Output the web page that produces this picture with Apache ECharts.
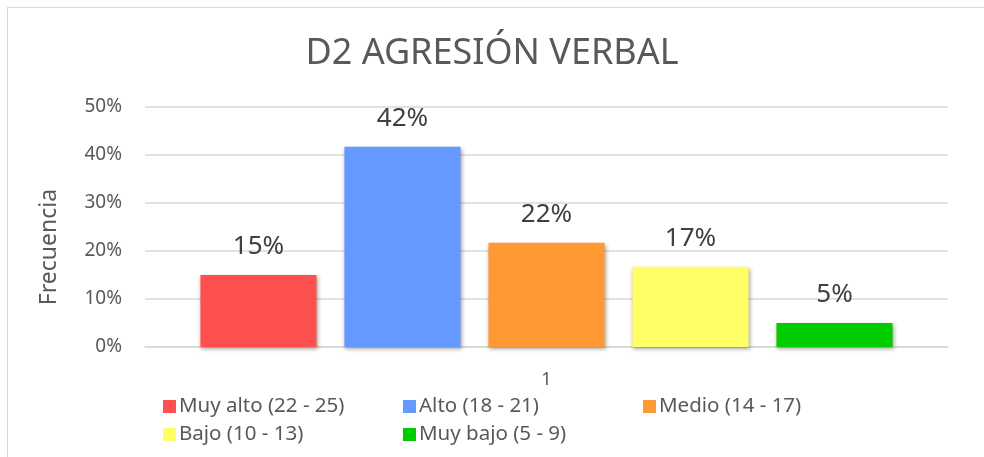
<!DOCTYPE html>
<html>
<head>
<meta charset="utf-8">
<title>D2 AGRESIÓN VERBAL</title>
<script src="https://cdn.jsdelivr.net/npm/echarts@6/dist/echarts.min.js"></script>
<style>
  html, body { margin: 0; padding: 0; background: #fff; overflow: hidden; }
  .frame {
    position: absolute; left: 7px; top: 7px; width: 1000px; height: 500px;
    border: 1px solid #d9d9d9;
  }
  #chart { position: absolute; left: 0; top: 0; width: 984px; height: 457px; }
</style>
</head>
<body>
<div class="frame"></div>
<div id="chart"></div>
<script>
// datos del gráfico
const categories = ['1']
const seriesNames = ['Muy alto (22 - 25)', 'Alto (18 - 21)', 'Medio (14 - 17)', 'Bajo (10 - 13)', 'Muy bajo (5 - 9)']
const seriesValues = [0.15, 0.417, 0.217, 0.167, 0.05]
const yTicks = [0, 0.1, 0.2, 0.3, 0.4, 0.5]

const colors = ['#ff5050', '#6699ff', '#ff9933', '#ffff66', '#00cc00']
const font = '"Noto Sans", sans-serif'

// posiciones de la leyenda (como en Excel: dos filas)
const legendPos = [
  { left: 163, top: 396 },
  { left: 403, top: 396 },
  { left: 643, top: 396 },
  { left: 163, top: 424 },
  { left: 403, top: 424 },
]

const chart = echarts.init(document.getElementById('chart'), null, { renderer: 'canvas' })

chart.setOption({
  animation: false,
  title: {
    text: 'D2 AGRESIÓN VERBAL',
    left: 'center',
    top: 31,
    textStyle: { color: '#595959', fontSize: 36, fontWeight: 'normal', fontFamily: font },
  },
  legend: seriesNames.map((name, i) => ({
    data: [name],
    left: legendPos[i].left,
    top: legendPos[i].top,
    padding: 0,
    itemWidth: 13,
    itemHeight: 13,
    itemGap: 0,
    icon: 'rect',
    textStyle: { color: '#595959', fontSize: 20.5, fontFamily: font, padding: [0, 0, 0, -2] },
  })),
  grid: { left: 145, right: 36, top: 107, bottom: 110 },
  xAxis: {
    type: 'category',
    data: categories,
    axisLine: { lineStyle: { color: '#d9d9d9', width: 1.5 } },
    axisTick: { show: false },
    axisLabel: { color: '#595959', fontSize: 18, fontFamily: font, margin: 24 },
  },
  yAxis: {
    type: 'value',
    min: yTicks[0],
    max: yTicks[yTicks.length - 1],
    interval: 0.1,
    name: 'Frecuencia',
    nameLocation: 'middle',
    nameGap: 84,
    nameTextStyle: { color: '#595959', fontSize: 23, fontFamily: font, padding: [0, 40, 0, 0] },
    axisLine: { show: false },
    axisTick: { show: false },
    splitLine: { lineStyle: { color: '#d9d9d9', width: 1.5 } },
    axisLabel: {
      color: '#595959',
      fontSize: 19,
      fontFamily: font,
      margin: 23,
      formatter: (v) => Math.round(v * 100) + '%',
    },
  },
  series: seriesNames.map((name, i) => ({
    name,
    type: 'bar',
    data: [seriesValues[i]],
    barGap: '24%',
    barCategoryGap: '13.8%',
    itemStyle: {
      color: colors[i],
      shadowColor: 'rgba(0, 0, 0, 0.35)',
      shadowBlur: 4,
      shadowOffsetX: 1,
      shadowOffsetY: 2,
    },
    label: {
      show: true,
      position: 'top',
      distance: 15,
      color: '#404040',
      fontSize: 26,
      fontFamily: font,
      formatter: (p) => Math.round(p.value * 100) + '%',
    },
  })),
})
</script>
</body>
</html>
